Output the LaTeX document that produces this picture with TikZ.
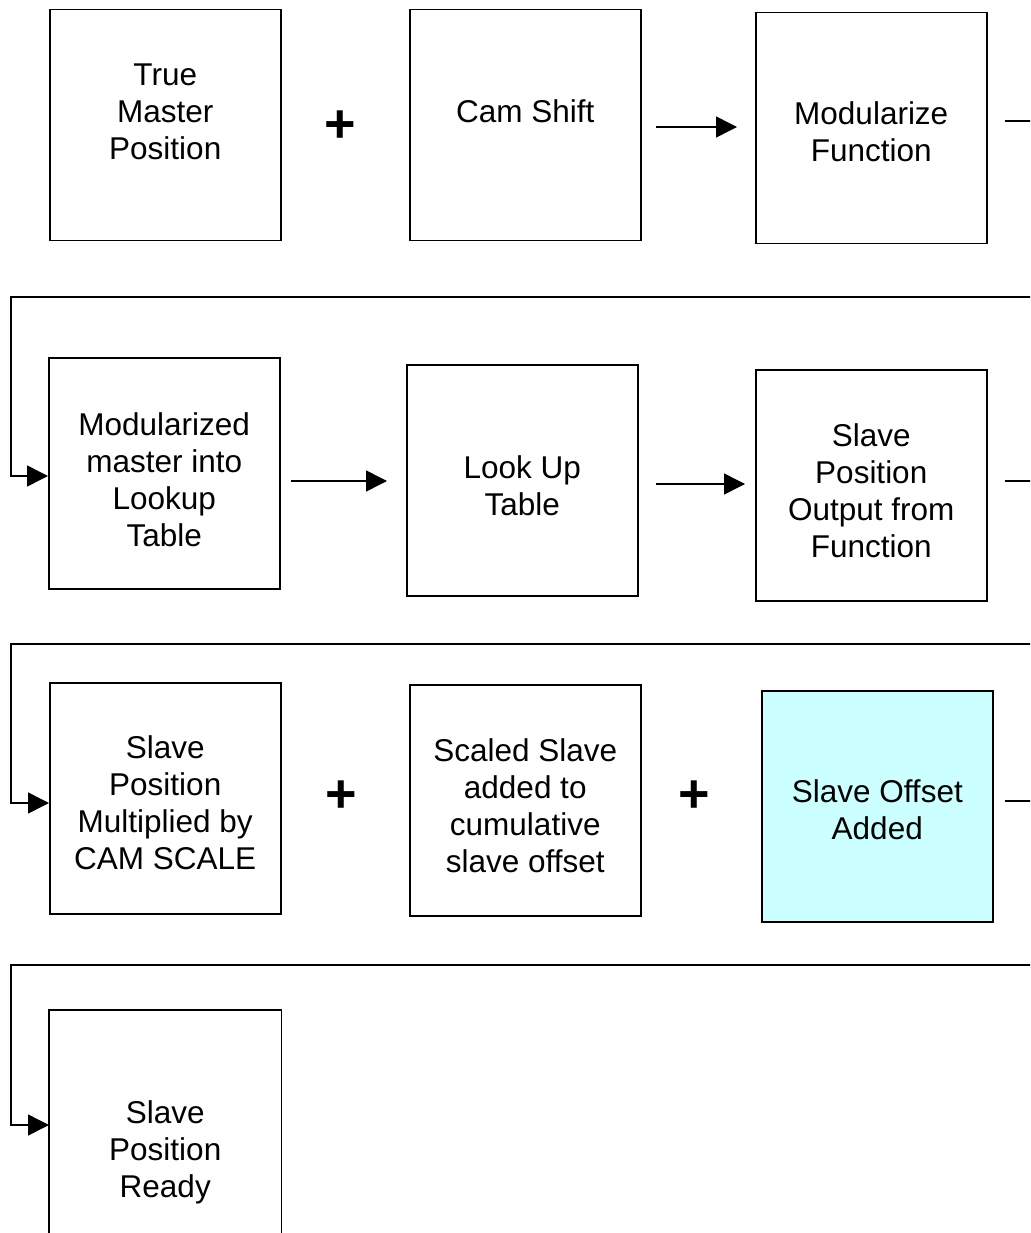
\documentclass[tikz,border=0pt]{standalone}
\usepackage{fontspec}
\setmainfont{Liberation Sans}
\usetikzlibrary{arrows.meta,calc}
\definecolor{lightcyan}{HTML}{CCFFFF}
\tikzset{
  blk/.style={draw=black, line width=1.5pt, minimum width=231pt, minimum height=231pt, inner sep=0pt, anchor=north west},
  openblk/.style={line width=1.5pt, minimum width=231pt, minimum height=250pt, inner sep=0pt, anchor=north west},
  txt/.style={align=center, anchor=base, inner sep=0pt, font=\fontsize{31.5}{37}\selectfont},
  plus/.style={inner sep=0pt, font=\fontsize{54}{54}\selectfont\bfseries},
  arr/.style={line width=1.5pt, -{Triangle[length=21pt,width=21pt]}},
  ln/.style={line width=1.5pt}
}
\begin{document}
\begin{tikzpicture}[x=1pt,y=-1pt]
\useasboundingbox (0,0) rectangle (1030,1233);
\clip (0,0) rectangle (1030,1233);
% boxes
\node[blk] (A) at (49,9) {};
\node[blk] (B) at (409,9) {};
\node[blk] (C) at (755,12) {};
\node[blk] (D) at (48,357) {};
\node[blk] (E) at (406,364) {};
\node[blk] (F) at (755,369) {};
\node[blk] (G) at (49,682) {};
\node[blk] (H) at (409,684) {};
\node[blk, fill=lightcyan] (I) at (761,690) {};
\node[openblk] (J) at (49,1010) {};
\draw[ln] (J.south west) -- (J.north west) -- (J.north east) -- (J.south east);
% texts (anchor = baseline of last line)
\node[txt] (tA) at ($(A.north)+(0,151)$) {True\\Master\\Position};
\node[txt] (tB) at ($(B.north)+(0,114)$) {Cam Shift};
\node[txt] (tC) at ($(C.north)+(0,150)$) {Modularize\\Function};
\node[txt] (tD) at ($(D.north)+(0,189)$) {Modularized\\master into\\Lookup\\Table};
\node[txt] (tE) at ($(E.north)+(0,151)$) {Look Up\\Table};
\node[txt] (tF) at ($(F.north)+(0,188)$) {Slave\\Position\\Output from\\Function};
\node[txt] (tG) at ($(G.north)+(0,187)$) {Slave\\Position\\Multiplied by\\CAM SCALE};
\node[txt] (tH) at ($(H.north)+(0,188)$) {Scaled Slave\\added to\\cumulative\\slave offset};
\node[txt] (tI) at ($(I.north)+(0,149)$) {Slave Offset\\Added};
\node[txt] (tJ) at ($(J.north)+(0,187)$) {Slave\\Position\\Ready};
% plus signs
\node[plus] (p1) at (340,127) {+};
\node[plus] (p2) at (341,797) {+};
\node[plus] (p3) at (694,797) {+};
% level coordinates
\coordinate (y1) at (0,127);
\coordinate (y2a) at (0,481);
\coordinate (y2b) at (0,484);
\coordinate (s1) at (0,121);
\coordinate (s2) at (0,481);
\coordinate (s3) at (0,801);
\coordinate (t1) at (0,476);
\coordinate (t2) at (0,803);
\coordinate (t3) at (0,1125);
% forward arrows
\draw[arr, shorten <=14pt, shorten >=18pt] (B.east |- y1) -- (C.west |- y1);
\draw[arr, shorten <=10pt, shorten >=19pt] (D.east |- y2a) -- (E.west |- y2a);
\draw[arr, shorten <=17pt, shorten >=10pt] (E.east |- y2b) -- (F.west |- y2b);
% return connectors
\draw[arr, shorten <=17pt] (C.east |- s1) -- (1045,121) |- (11,297) |- (D.west |- t1);
\draw[arr, shorten <=17pt] (F.east |- s2) -- (1045,481) |- (11,644) |- (G.west |- t2);
\draw[arr, shorten <=11pt] (I.east |- s3) -- (1045,801) |- (11,965) |- (J.west |- t3);
\end{tikzpicture}
\end{document}
